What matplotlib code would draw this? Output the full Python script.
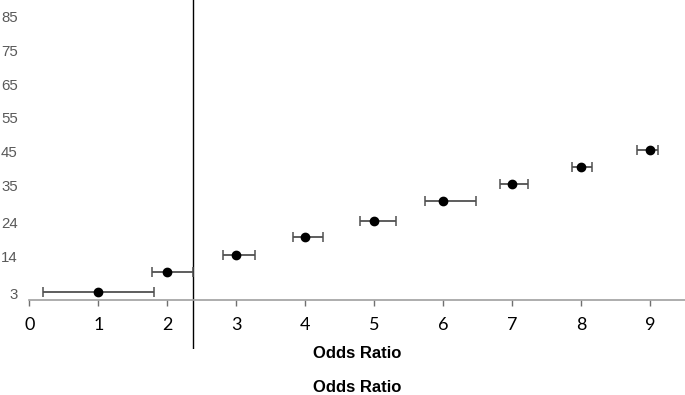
import matplotlib
matplotlib.use("Agg")
import matplotlib.pyplot as plt

# Data
odds_ratio = [1, 2, 3, 4, 5, 6, 7, 8, 9]
y_pos = [3.3, 9.2, 14.4, 19.5, 24.4, 30.3, 35.4, 40.4, 45.4]
ci_low = [0.2, 1.78, 2.81, 3.82, 4.79, 5.73, 6.82, 7.87, 8.80]
ci_high = [1.8, 2.37, 3.27, 4.25, 5.31, 6.47, 7.23, 8.15, 9.11]
y_ticks = [3, 14, 24, 35, 45, 55, 65, 75, 85]
x_ticks = [0, 1, 2, 3, 4, 5, 6, 7, 8, 9]
ref_line = 2.37
x_title = "Odds Ratio"

W, H, DPI = 685, 395, 100
fig = plt.figure(figsize=(W / DPI, H / DPI), dpi=DPI)
ax_left, ax_right, ax_top, ax_bottom = 29.3, 685, 0, 349
ax = fig.add_axes([ax_left / W, 1 - ax_bottom / H, (ax_right - ax_left) / W, (ax_bottom - ax_top) / H])

ax.set_xlim(0, 9.5)
ax.set_ylim(-13.6, 90.0)

xerr = [[o - l for o, l in zip(odds_ratio, ci_low)], [h - o for o, h in zip(odds_ratio, ci_high)]]
ax.errorbar(odds_ratio, y_pos, xerr=xerr, fmt='none', ecolor='#505050',
            elinewidth=1.3, capsize=3.6, capthick=1.1, zorder=2)
ax.plot(odds_ratio, y_pos, 'o', color='black', markersize=6.0, zorder=3)

ax.axvline(ref_line, color='black', linewidth=1.0, zorder=1)

for s in ['left', 'right', 'top']:
    ax.spines[s].set_visible(False)
ax.spines['bottom'].set_position(('data', 0.8))
ax.spines['bottom'].set_color('#a0a0a0')
ax.spines['bottom'].set_linewidth(1.2)

ax.set_xticks(x_ticks)
ax.set_xticklabels([str(t) for t in x_ticks], family='Lato', fontsize=13, color='black')
ax.tick_params(axis='x', direction='out', length=4, width=1, color='#707070', pad=8)

ax.set_yticks(y_ticks)
ax.set_yticklabels([str(t) for t in y_ticks], family='Liberation Sans', fontsize=10.8, color='#595959')
ax.tick_params(axis='y', length=0, pad=8.4)

fig.text(357 / W, 1 - 354 / H, x_title, ha='center', va='center',
         family='Liberation Sans', fontweight='bold', fontsize=12)
fig.text(357 / W, 1 - 388 / H, x_title, ha='center', va='center',
         family='Liberation Sans', fontweight='bold', fontsize=12)

fig.savefig('out.png', dpi=DPI)
